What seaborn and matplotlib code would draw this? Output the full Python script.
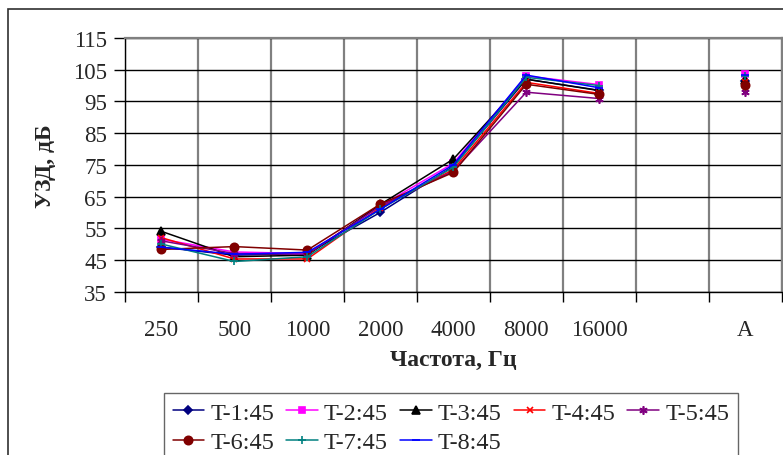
import numpy as np
import pandas as pd
import matplotlib
matplotlib.use("Agg")
import matplotlib.pyplot as plt
from matplotlib.patches import Rectangle
import seaborn as sns

# Octave-band sound pressure levels, dB, plus the A-weighted level
categories = ["250", "500", "1000", "2000", "4000", "8000", "16000", "", "A"]
series_names = ["T-1:45", "T-2:45", "T-3:45", "T-4:45", "T-5:45",
                "T-6:45", "T-7:45", "T-8:45"]
t1 = [49.0, 46.5, 47.0, 60.0, 74.5, 102.0, 98.5, np.nan, 101.5]
t2 = [51.5, 47.5, 47.0, 62.0, 75.5, 103.0, 100.3, np.nan, 103.5]
t3 = [54.0, 46.0, 46.5, 62.5, 76.8, 102.0, 98.4, np.nan, 101.8]
t4 = [52.0, 45.3, 45.3, 61.5, 73.5, 101.0, 97.5, np.nan, 101.0]
t5 = [51.0, 47.0, 46.8, 62.0, 73.0, 97.9, 95.9, np.nan, 97.9]
t6 = [48.3, 49.2, 48.1, 62.6, 72.6, 100.4, 97.2, np.nan, 100.3]
t7 = [50.0, 44.5, 46.0, 61.0, 74.2, 102.6, 100.0, np.nan, 102.9]
t8 = [49.0, 46.8, 47.4, 61.0, 75.0, 103.3, 99.3, np.nan, 103.3]
all_series = [t1, t2, t3, t4, t5, t6, t7, t8]

colors = ["#000080", "#FF00FF", "#000000", "#FF0000", "#800080",
          "#800000", "#008080", "#0000FF"]
markers = ["D", "s", "^", "x", (6, 2, 0), "o", "+", "_"]
msizes = [4, 5, 6, 5, 6, 6, 6, 6]

sns.set_theme(style="white")
plt.rcParams["font.family"] = ["Liberation Serif", "DejaVu Serif"]

fig = plt.figure(figsize=(7.83, 4.56), dpi=100)
fig.patch.set_facecolor("white")
ax = fig.add_axes([125 / 783, 1 - 292.6 / 456, (781.7 - 125) / 783, (292.6 - 39) / 456])

pos = np.arange(len(categories))
for name, vals, c, m, ms in zip(series_names, all_series, colors, markers, msizes):
    df = pd.DataFrame({"x": pos, "y": vals})
    main = df.iloc[:7]
    sns.lineplot(data=main, x="x", y="y", ax=ax, color=c, marker=m, markersize=ms,
                 markeredgecolor=c, markerfacecolor=c, markeredgewidth=1.2,
                 linewidth=1.1, label=name, sort=False)
    tail = df.iloc[8:]
    ax.plot(tail["x"], tail["y"], linestyle="none", marker=m, markersize=ms,
            color=c, markeredgecolor=c, markeredgewidth=1.2)

ax.set_xlim(-0.5, len(categories) - 0.5)
ax.set_ylim(35, 115)

# y grid and ticks
ax.set_yticks(np.arange(35, 116, 10))
ax.yaxis.grid(True, color="black", linewidth=1.0)
# category boundaries carry the ticks and vertical grid; labels sit at centres
ax.set_xticks(np.arange(-0.5, len(categories), 1.0))
ax.set_xticklabels([])
ax.set_xticks(pos, minor=True)
ax.set_xticklabels(categories, minor=True)
ax.xaxis.grid(True, which="major", color="#808080", linewidth=1.6)
ax.set_axisbelow(True)

ax.tick_params(axis="y", which="major", direction="out", length=8, width=1,
               color="black", labelsize=16.5, pad=5, left=True)
ax.tick_params(axis="x", which="major", direction="out", length=7, width=1,
               color="black", bottom=True)
ax.tick_params(axis="x", which="minor", length=0, labelsize=16.5, pad=20)

for side in ["top", "right"]:
    ax.spines[side].set_color("#808080")
    ax.spines[side].set_linewidth(1.6)
for side in ["left", "bottom"]:
    ax.spines[side].set_color("black")
    ax.spines[side].set_linewidth(1.0)

ax.set_xlabel("Частота, Гц", fontsize=17, fontweight="bold", labelpad=6)
ax.set_ylabel("УЗД, дБ", fontsize=17, fontweight="bold", labelpad=12)

# legend filled row by row: reorder for matplotlib's column-major layout
handles, labels = ax.get_legend_handles_labels()
order = [0, 5, 1, 6, 2, 7, 3, 4]
leg = ax.legend([handles[i] for i in order], [labels[i] for i in order],
                loc="upper left", bbox_to_anchor=(164 / 783, 1 - 394 / 456),
                bbox_transform=fig.transFigure, borderaxespad=0, ncol=5,
                fontsize=17.5, frameon=True, fancybox=False, shadow=False,
                borderpad=0.35, handlelength=1.3, handletextpad=0.25,
                columnspacing=0.5, labelspacing=0.32)
leg.get_frame().set_edgecolor("#404040")
leg.get_frame().set_linewidth(1.0)

# outer chart frame
fig.patches.append(Rectangle((8 / 783, -0.05), 1.0, 1 - 10 / 456 + 0.05,
                             transform=fig.transFigure, fill=False,
                             edgecolor="#303030", linewidth=1.2))

fig.savefig("out.png", dpi=100, facecolor="white")
